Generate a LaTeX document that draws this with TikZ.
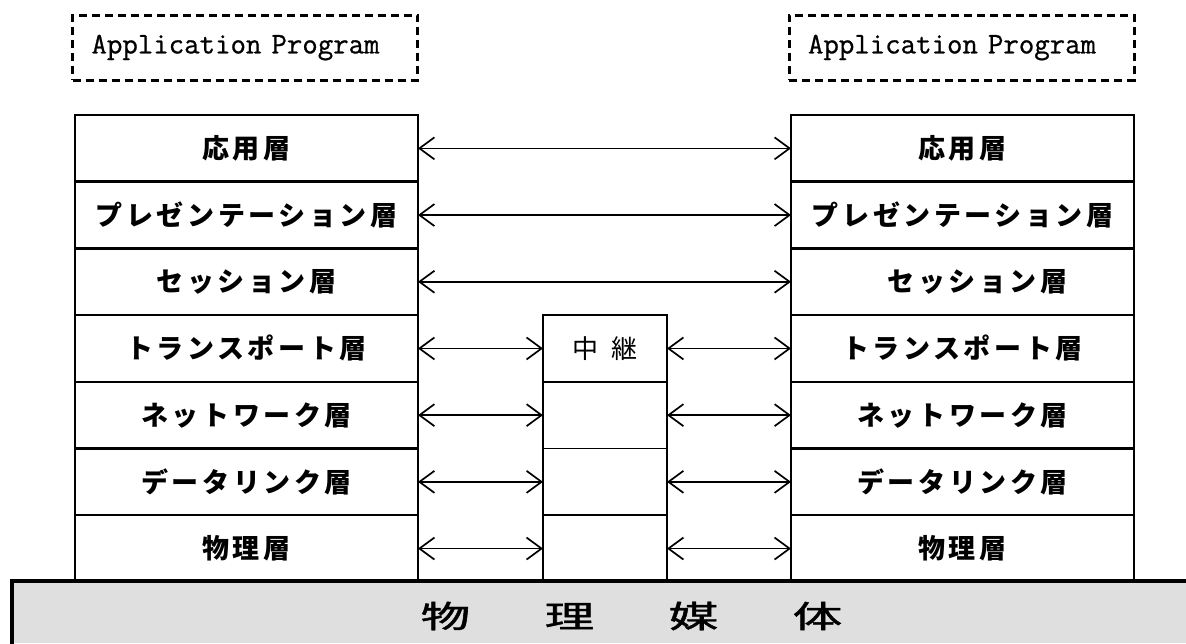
\documentclass[tikz,border=0pt]{standalone}
\usepackage{fontspec}
\newfontfamily\jp{Noto Sans CJK JP}
\newfontfamily\jpm[FakeBold=1.2]{Noto Sans CJK JP}
\newfontfamily\jpl[LetterSpace=13]{Noto Sans CJK JP}
\newfontfamily\apmono[AutoFakeBold=0.8]{Latin Modern Mono}
\usetikzlibrary{arrows.meta}
\tikzset{
  layer/.style={draw, line width=2.5pt, minimum width=343pt, minimum height=66.7pt, inner sep=0pt, outer sep=0pt,
    font=\jpl\bfseries\fontsize{27}{30}\selectfont},
  relaybox/.style={draw, line width=1.6pt, minimum width=124pt, minimum height=66.7pt, inner sep=0pt, outer sep=0pt,
    font=\jp\fontsize{26}{30}\selectfont},
  appbox/.style={draw, line width=3pt, dash pattern=on 8pt off 5pt, minimum width=345pt, minimum height=65pt,
    inner xsep=19pt, text width=307pt, align=left, font=\apmono\bfseries\fontsize{30}{32}\selectfont},
  peer/.style={line width=1.7pt, {Straight Barb[length=15pt,width=22pt]}-{Straight Barb[length=15pt,width=22pt]}},
}
\begin{document}
\begin{tikzpicture}[x=1pt,y=-1pt]
\useasboundingbox[fill=white] (0,0) rectangle (1186,643);
% physical medium
\fill[gray!25] (12,581) rectangle (1186,643);
\draw[line width=4pt] (12,645) -- (12,581) -- (1186,581);
\node[font=\jpm\fontsize{31}{34}\selectfont] (medium) at (631.5,616)
  {\scalebox{1.6}[1]{物\hspace{46.5pt}理\hspace{46.5pt}媒\hspace{46.5pt}体}};
% application programs
\node[appbox] (appL) at (245,47.5) {Application Program};
\node[appbox] (appR) at (961.5,47.5) {Application Program};
% left stack
\node[layer] (L1) at (246.5,148.35) {応用層};
\node[layer] (L2) at (246.5,215.05) {プレゼンテーション層};
\node[layer] (L3) at (246.5,281.75) {セッション層};
\node[layer] (L4) at (246.5,348.45) {トランスポート層};
\node[layer] (L5) at (246.5,415.15) {ネットワーク層};
\node[layer] (L6) at (246.5,481.85) {データリンク層};
\node[layer] (L7) at (246.5,548.55) {物理層};
% right stack
\node[layer] (R1) at (962.5,148.35) {応用層};
\node[layer] (R2) at (962.5,215.05) {プレゼンテーション層};
\node[layer] (R3) at (962.5,281.75) {\hspace{30pt}セッション層};
\node[layer] (R4) at (962.5,348.45) {トランスポート層};
\node[layer] (R5) at (962.5,415.15) {ネットワーク層};
\node[layer] (R6) at (962.5,481.85) {データリンク層};
\node[layer] (R7) at (962.5,548.55) {物理層};
% relay
\node[relaybox] (M4) at (605,348.45) {中\hspace{13pt}継};
\node[relaybox] (M5) at (605,415.15) {};
\node[relaybox] (M6) at (605,481.85) {};
\node[relaybox] (M7) at (605,548.55) {};
% peer arrows
\draw[peer] (L1.east) -- (R1.west);
\draw[peer] (L2.east) -- (R2.west);
\draw[peer] (L3.east) -- (R3.west);
\foreach \i in {4,5,6,7}{
  \draw[peer] (L\i.east) -- (M\i.west);
  \draw[peer] (M\i.east) -- (R\i.west);
}
\end{tikzpicture}
\end{document}
